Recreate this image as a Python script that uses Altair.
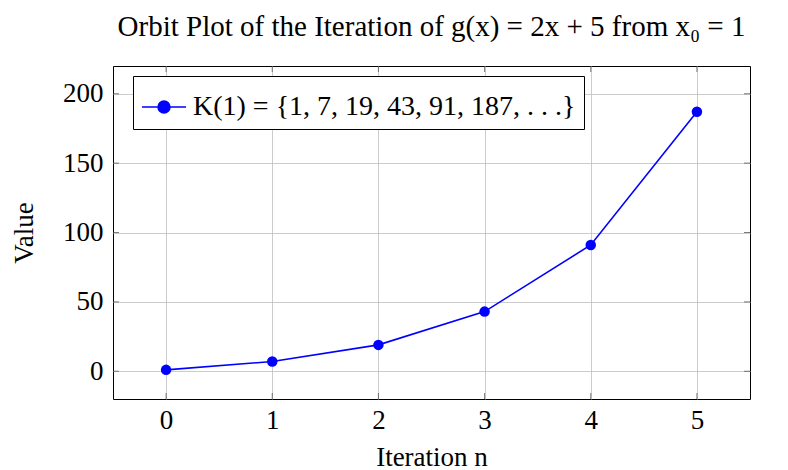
import altair as alt
import pandas as pd

# Orbit of g(x) = 2x + 5 starting at x0 = 1
iterations = [0, 1, 2, 3, 4, 5]
values = [1, 7, 19, 43, 91, 187]
series_label = "K(1) = {1, 7, 19, 43, 91, 187, . . .}"

x_ticks = [0, 1, 2, 3, 4, 5]
y_ticks = [0, 50, 100, 150, 200]
x_domain = [-0.5, 5.5]
y_domain = [-20, 220]

FONT = "Liberation Serif"
BLUE = "#0000ff"

orbit = pd.DataFrame({"n": iterations, "value": values, "series": series_label})

x_enc = alt.X(
    "n:Q",
    scale=alt.Scale(domain=x_domain, nice=False, zero=False),
    axis=alt.Axis(values=x_ticks, title="Iteration n", format="d"),
)
y_enc = alt.Y(
    "value:Q",
    scale=alt.Scale(domain=y_domain, nice=False, zero=False),
    axis=alt.Axis(values=y_ticks, title="Value"),
)

legend_symbol = (
    "M-1,0L1,0M0.27,0A0.27,0.27,0,1,1,-0.27,0A0.27,0.27,0,1,1,0.27,0Z"
)

line = alt.Chart(orbit).mark_line(color=BLUE, strokeWidth=1.6).encode(
    x=x_enc, y=y_enc
)

points = alt.Chart(orbit).mark_point(filled=True, size=110, opacity=1).encode(
    x="n:Q",
    y="value:Q",
    color=alt.Color(
        "series:N",
        scale=alt.Scale(range=[BLUE]),
        legend=alt.Legend(
            title=None,
            orient="none",
            legendX=20,
            legendY=10,
            symbolType=legend_symbol,
            symbolSize=1936,
            symbolStrokeWidth=1.6,
            symbolStrokeColor=BLUE,
            symbolFillColor=BLUE,
            labelFont=FONT,
            labelFontSize=28,
            labelColor="black",
            labelLimit=800,
            labelOffset=6,
            strokeColor="black",
            fillColor="white",
            padding=8,
            cornerRadius=0,
        ),
    ),
)

# Short inward tick marks on all four sides of the frame
xt = pd.DataFrame({"n": x_ticks * 2, "value": [y_domain[0]] * 6 + [y_domain[1]] * 6})
yt = pd.DataFrame({"n": [x_domain[0]] * 5 + [x_domain[1]] * 5, "value": y_ticks * 2})
x_tick_marks = alt.Chart(xt).mark_tick(
    orient="vertical", size=12, color="#444444", thickness=1, clip=True
).encode(x="n:Q", y="value:Q")
y_tick_marks = alt.Chart(yt).mark_tick(
    orient="horizontal", size=12, color="#444444", thickness=1, clip=True
).encode(x="n:Q", y="value:Q")

chart = (
    alt.layer(line, points, x_tick_marks, y_tick_marks)
    .properties(
        width=637,
        height=333,
        autosize=alt.AutoSizeParams(type="none"),
        padding={"left": 113, "top": 66, "right": 38, "bottom": 71},
        title=alt.TitleParams(
            "Orbit Plot of the Iteration of g(x) = 2x + 5 from x₀ = 1",
            font=FONT,
            fontSize=29,
            fontWeight="normal",
            color="black",
            anchor="middle",
            offset=24,
        ),
    )
    .configure_view(stroke="black", strokeWidth=1)
    .configure_axis(
        labelFont=FONT,
        labelFontSize=27,
        labelColor="black",
        titleFont=FONT,
        titleFontSize=27,
        titleFontWeight="normal",
        titleColor="black",
        domain=False,
        ticks=False,
        grid=True,
        gridColor="#bfbfbf",
        gridWidth=0.8,
    )
    .configure_axisX(labelPadding=8, titlePadding=11)
    .configure_axisY(labelPadding=10, titlePadding=24)
)

chart.save("out.html", embed_options={"renderer": "svg", "actions": False})
